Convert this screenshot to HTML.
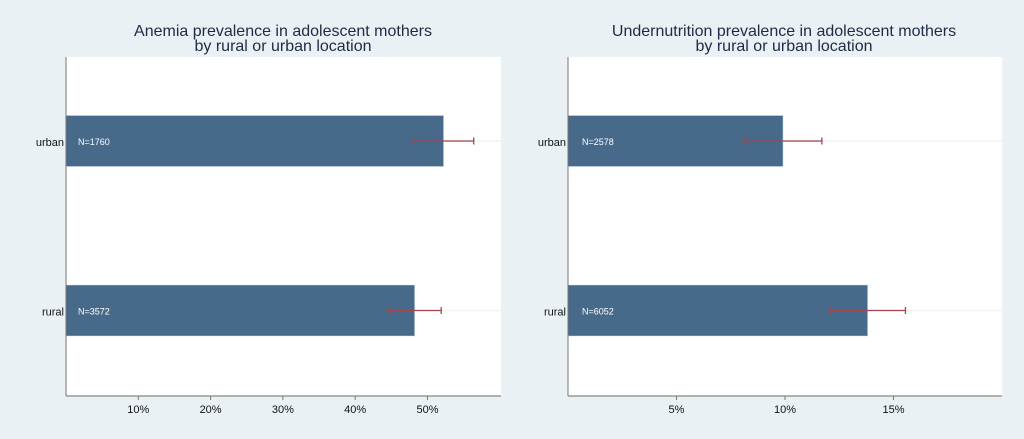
<!DOCTYPE html>
<html><head><meta charset="utf-8">
<style>
html,body{margin:0;padding:0;background:#e9f1f4;}
svg{display:block;font-family:"Liberation Sans",sans-serif;}
</style></head>
<body>
<svg id="c" width="1024" height="439" viewBox="0 0 1024 439" xmlns="http://www.w3.org/2000/svg">
<rect x="0" y="0" width="1024" height="439" fill="#e9f1f4"/>
</svg>
<script>
const categories = ["urban", "rural"];
const anemiaValues = [52.2, 48.2];
const anemiaLow = [48.0, 44.6];
const anemiaHigh = [56.4, 51.9];
const anemiaN = ["N=1760", "N=3572"];
const anemiaTicks = [10, 20, 30, 40, 50];
const underValues = [9.9, 13.8];
const underLow = [8.15, 12.1];
const underHigh = [11.7, 15.55];
const underN = ["N=2578", "N=6052"];
const underTicks = [5, 10, 15];

const NS = "http://www.w3.org/2000/svg";
const svg = document.getElementById('c');
function mk(tag, attrs, parent) {
  const e = document.createElementNS(NS, tag);
  for (const k in attrs) e.setAttribute(k, attrs[k]);
  (parent || svg).appendChild(e);
  return e;
}

function panel(opt) {
  const g = mk('g', {});
  
  
  const x = v => opt.x0 + (v / opt.max) * (opt.x1 - opt.x0);
  const top = 57, bottom = 396;
  const rowY = [141, 310.5];
  const plot = mk('rect', {x: opt.x0, y: top, width: opt.x1 - opt.x0, height: bottom - top, fill: '#ffffff'}, g);
  
  
  // titles
  opt.title.forEach((t, i) => {
    const tt = mk('text', {x: opt.tx, y: 36 + i * 15, 'text-anchor': 'middle', 'font-size': 16, fill: '#1f2a44'}, g);
    tt.textContent = t;
    
    
  });
  categories.forEach((c, i) => {
    const cy = rowY[i];
    const gl = mk('line', {x1: opt.x0, x2: opt.x1, y1: cy, y2: cy, stroke: '#eef3f5', 'stroke-width': 1.5}, g);
    
    
    const b = mk('rect', {x: opt.x0, y: cy - 25.3, width: x(opt.values[i]) - opt.x0, height: 50.6, fill: '#476a8a', stroke: '#8aa3ba', 'stroke-width': 0.6}, g);
    
    
    const nt = mk('text', {x: opt.x0 + opt.nOff, y: cy + 4, 'font-size': 9, fill: '#ffffff'}, g);
    nt.textContent = opt.n[i];
    
    
    const e = mk('g', {stroke: '#a0454e', 'stroke-width': 1.3}, g);
    
    
    const lo = x(opt.low[i]), hi = x(opt.high[i]);
    mk('line', {x1: lo, x2: hi, y1: cy, y2: cy}, e);
    mk('line', {x1: lo, x2: lo, y1: cy - 3.5, y2: cy + 3.5}, e);
    mk('line', {x1: hi, x2: hi, y1: cy - 3.5, y2: cy + 3.5}, e);
    const cl = mk('text', {x: opt.x0 - 2, y: cy + 5, 'text-anchor': 'end', 'font-size': 11, fill: '#111'}, g);
    cl.textContent = c;
    
    
  });
  const ya = mk('line', {x1: opt.x0, x2: opt.x0, y1: top, y2: bottom, stroke: '#777', 'stroke-width': 1}, g);
  
  
  const xa = mk('line', {x1: opt.x0, x2: opt.x1, y1: bottom, y2: bottom, stroke: '#888', 'stroke-width': 1.2}, g);
  
  
  opt.ticks.forEach(t => {
    const tx = x(t);
    const tk = mk('line', {x1: tx, x2: tx, y1: bottom, y2: bottom + 4, stroke: '#777'}, g);
    
    
    const tl = mk('text', {x: tx, y: 413, 'text-anchor': 'middle', 'font-size': 11, fill: '#111'}, g);
    tl.textContent = t + '%';
    
    
  });
}

panel({name: 'anemia-panel', x0: 66, x1: 501, max: 60.17, tx: 283,
  title: ['Anemia prevalence in adolescent mothers', 'by rural or urban location'],
  values: anemiaValues, low: anemiaLow, high: anemiaHigh, n: anemiaN, ticks: anemiaTicks, nOff: 12});
panel({name: 'undernutrition-panel', x0: 568, x1: 1002, max: 20.0, tx: 784,
  title: ['Undernutrition prevalence in adolescent mothers', 'by rural or urban location'],
  values: underValues, low: underLow, high: underHigh, n: underN, ticks: underTicks, nOff: 14});
</script>
</body></html>
